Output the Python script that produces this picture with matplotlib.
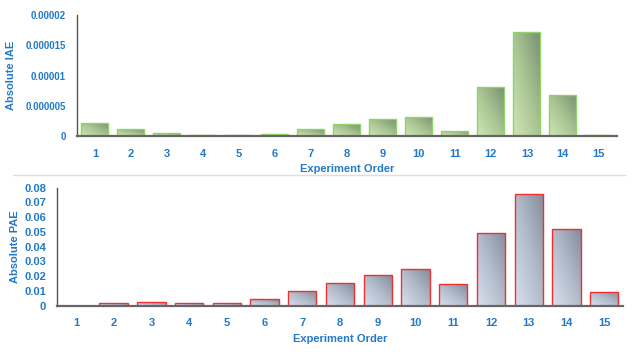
import matplotlib
matplotlib.use('Agg')
import matplotlib.pyplot as plt
from matplotlib.colors import LinearSegmentedColormap
from matplotlib.lines import Line2D
import numpy as np

plt.rcParams['font.family'] = ['Liberation Sans Narrow', 'Liberation Sans', 'DejaVu Sans']

experiments = [str(i) for i in range(1, 16)]
iae_values = [2.2e-6, 1.1e-6, 0.45e-6, 0.1e-6, 0.1e-6, 0.28e-6, 1.1e-6, 1.93e-6,
              2.76e-6, 3.2e-6, 0.83e-6, 8.15e-6, 1.72e-5, 6.8e-6, 0.1e-6]
pae_values = [0.0, 0.002, 0.0027, 0.0015, 0.0015, 0.0043, 0.010, 0.0151,
              0.0208, 0.0246, 0.0145, 0.0495, 0.0755, 0.052, 0.0095]
iae_ticks = [0, 0.000005, 0.00001, 0.000015, 0.00002]
iae_ticklabels = ['0', '0.000005', '0.00001', '0.000015', '0.00002']
pae_ticks = [0, 0.01, 0.02, 0.03, 0.04, 0.05, 0.06, 0.07, 0.08]
pae_ticklabels = ['0', '0.01', '0.02', '0.03', '0.04', '0.05', '0.06', '0.07', '0.08']

BLUE = '#2279c8'
green_cmap = LinearSegmentedColormap.from_list('g', ['#cfe6b4', '#a9c592', '#7b9072'])
gray_cmap = LinearSegmentedColormap.from_list('b', ['#d8e0ee', '#b3bccb', '#848d9c'])

# diagonal gradient: light bottom-left, dark top-right
u = np.linspace(0, 1, 40)
grad = (u[None, :] + u[:, None]) / 2.0


def gradient_bars(ax, values, cmap, edge, ymax):
    x = np.arange(len(values))
    bars = ax.bar(x, values, width=0.75, facecolor='none', edgecolor=edge,
                  linewidth=1.0, zorder=3)
    for bar in bars:
        x0, y0 = bar.get_x(), bar.get_y()
        w, h = bar.get_width(), bar.get_height()
        if h <= 0:
            continue
        im = ax.imshow(grad, cmap=cmap, origin='lower', aspect='auto',
                       extent=(x0, x0 + w, y0, y0 + h), zorder=2)
        im.set_clip_path(bar)
    ax.set_xlim(-0.5, len(values) - 0.5)
    ax.set_ylim(0, ymax)
    return bars


def style_axes(ax, ticks, ticklabels, ylabel, ylabel_x, ysize=8):
    ax.set_yticks(ticks)
    ax.set_yticklabels(ticklabels)
    ax.set_xticks(np.arange(len(experiments)))
    ax.set_xticklabels(experiments)
    ax.tick_params(axis='both', length=0, labelsize=8, labelcolor=BLUE)
    ax.tick_params(axis='x', pad=9)
    ax.tick_params(axis='y', pad=8, labelsize=ysize)
    for lbl in ax.get_xticklabels() + ax.get_yticklabels():
        lbl.set_fontweight('bold')
    for s in ['top', 'right']:
        ax.spines[s].set_visible(False)
    ax.spines['left'].set_color('#555555')
    ax.spines['left'].set_linewidth(1.0)
    ax.spines['bottom'].set_color('#666666')
    ax.spines['bottom'].set_linewidth(1.6)
    ax.spines['bottom'].set_zorder(4)
    ax.set_xlabel('Experiment Order', fontsize=8, fontweight='bold', color=BLUE, labelpad=4)
    ax.set_ylabel(ylabel, fontsize=8, fontweight='bold', color=BLUE)
    ax.yaxis.set_label_coords(ylabel_x, 0.5)


fig = plt.figure(figsize=(6.41, 3.59), dpi=100)

ax1 = fig.add_axes([0.120, 0.621, 0.8424, 0.337])
gradient_bars(ax1, iae_values, green_cmap, '#8fd46a', 0.00002)
style_axes(ax1, iae_ticks, iae_ticklabels, 'Absolute IAE', -0.112, ysize=7)

ax2 = fig.add_axes([0.089, 0.1485, 0.883, 0.3287])
gradient_bars(ax2, pae_values, gray_cmap, '#f03030', 0.08)
style_axes(ax2, pae_ticks, pae_ticklabels, 'Absolute PAE', -0.065)

# light separator between the two panels
fig.add_artist(Line2D([0.02, 0.975], [1 - 175 / 359, 1 - 175 / 359],
                      color='#dddddd', linewidth=1.0, transform=fig.transFigure))

fig.savefig('out.png', dpi=100)
